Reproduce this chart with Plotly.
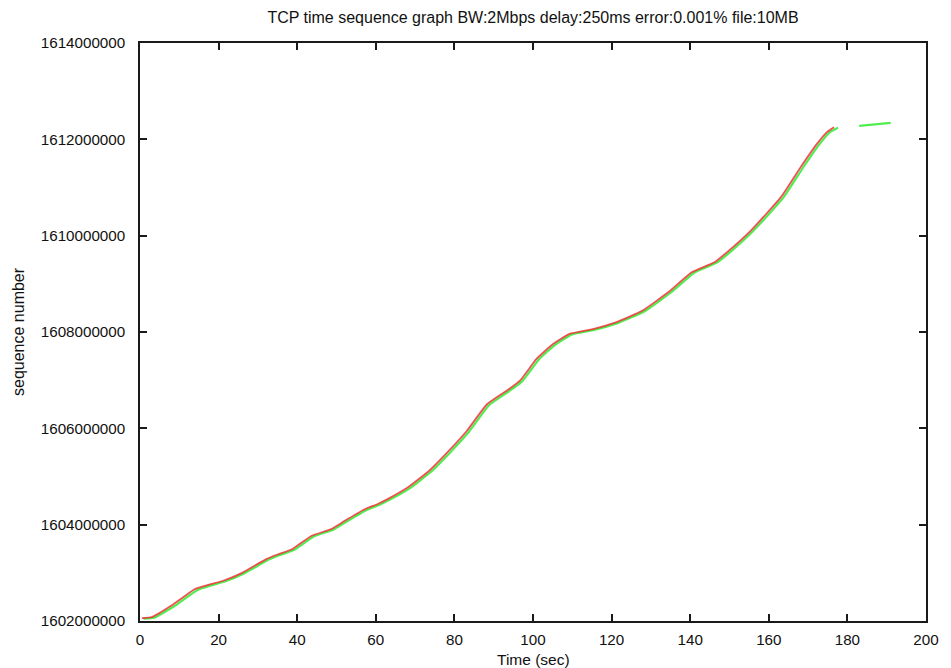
import plotly.graph_objects as go

# Sent data segments: time (s) vs sequence number
sent_time = [0.5, 3.0, 8.0, 13.9, 17.0, 21.0, 26.0, 32.0, 35.0, 38.7, 43.7, 48.7,
             52.1, 57.2, 60.5, 63.0, 68.1, 73.6, 78.2, 83.2, 88.3, 93.3, 96.7,
             100.9, 105.1, 109.3, 115.2, 121.1, 127.8, 134.5, 140.4, 146.2, 150.0,
             155.5, 163.1, 168.1, 172.3, 174.8, 176.6]
sent_seq = [1602060000, 1602080000, 1602320000, 1602660000, 1602740000, 1602830000,
            1603000000, 1603280000, 1603380000, 1603490000, 1603770000, 1603910000,
            1604080000, 1604320000, 1604430000, 1604530000, 1604770000, 1605120000,
            1605500000, 1605950000, 1606500000, 1606780000, 1606990000, 1607440000,
            1607750000, 1607960000, 1608060000, 1608200000, 1608440000, 1608830000,
            1609240000, 1609450000, 1609700000, 1610110000, 1610800000, 1611420000,
            1611910000, 1612150000, 1612250000]

# Acknowledgements: time (s) vs acked sequence number
ack_time = [0.9, 3.6, 8.6, 14.5, 17.6, 21.6, 26.6, 32.6, 35.6, 39.3, 44.3, 49.3,
            52.7, 57.8, 61.1, 63.6, 68.7, 74.2, 78.8, 83.8, 88.9, 93.9, 97.3,
            101.5, 105.7, 109.9, 115.8, 121.7, 128.4, 135.1, 141.0, 146.8, 150.6,
            156.1, 163.7, 168.7, 172.9, 175.4, 177.6, None, 183.0, 191.0]
ack_seq = [1602050000, 1602070000, 1602300000, 1602640000, 1602730000, 1602820000,
           1602990000, 1603270000, 1603370000, 1603480000, 1603760000, 1603900000,
           1604070000, 1604310000, 1604420000, 1604520000, 1604760000, 1605110000,
           1605490000, 1605940000, 1606490000, 1606770000, 1606980000, 1607430000,
           1607740000, 1607950000, 1608050000, 1608190000, 1608430000, 1608820000,
           1609230000, 1609440000, 1609690000, 1610100000, 1610790000, 1611410000,
           1611900000, 1612140000, 1612240000, None, 1612280000, 1612340000]

x_ticks = [0, 20, 40, 60, 80, 100, 120, 140, 160, 180, 200]
y_ticks = [1602000000, 1604000000, 1606000000, 1608000000, 1610000000,
           1612000000, 1614000000]

FONT = "Liberation Sans, Arial, Helvetica, sans-serif"
AXIS_COLOR = "#1a1a1a"
TEXT_SIZE = 15.5

fig = go.Figure()
fig.add_trace(go.Scatter(
    x=ack_time, y=ack_seq, mode="lines", connectgaps=False,
    line=dict(color="rgba(60,235,60,0.9)", width=2.2, shape="spline",
              smoothing=0.4),
    showlegend=False))
fig.add_trace(go.Scatter(
    x=sent_time, y=sent_seq, mode="lines",
    line=dict(color="rgba(235,50,50,0.85)", width=1.8, shape="spline",
              smoothing=0.4),
    showlegend=False))

axis_common = dict(
    showgrid=False, zeroline=False, showline=True, linecolor=AXIS_COLOR,
    linewidth=1.5, mirror="ticks", ticks="inside", ticklen=7, tickwidth=1.5,
    tickcolor=AXIS_COLOR, tickfont=dict(family=FONT, size=15.2, color="#111"),
)

fig.update_xaxes(range=[0, 200], tickvals=x_ticks,
                 ticktext=[str(v) for v in x_ticks], ticklabelstandoff=4,
                 **axis_common)
fig.update_yaxes(range=[1602000000, 1614000000], tickvals=y_ticks,
                 ticktext=[str(v) for v in y_ticks], ticklabelstandoff=10,
                 **axis_common)

fig.update_layout(
    width=951, height=668,
    margin=dict(l=140, r=18, t=43, b=47),
    paper_bgcolor="white", plot_bgcolor="white",
    font=dict(family=FONT, color="#111"),
    title=dict(
        text="TCP time sequence graph BW:2Mbps delay:250ms error:0.001% file:10MB",
        font=dict(family=FONT, size=16, color="#111"),
        x=0.5, xref="paper", xanchor="center",
        y=1 - 17 / 668, yref="container", yanchor="middle"),
    annotations=[
        dict(text="Time (sec)", xref="paper", yref="paper", x=0.5, y=0,
             yshift=-38, xanchor="center", yanchor="middle", showarrow=False,
             font=dict(family=FONT, size=TEXT_SIZE, color="#111")),
        dict(text="sequence number", xref="paper", yref="paper", x=0, y=0.5,
             xshift=-122, xanchor="center", yanchor="middle", textangle=-90,
             showarrow=False, font=dict(family=FONT, size=16, color="#111")),
    ],
)

fig.write_html("out.html")
